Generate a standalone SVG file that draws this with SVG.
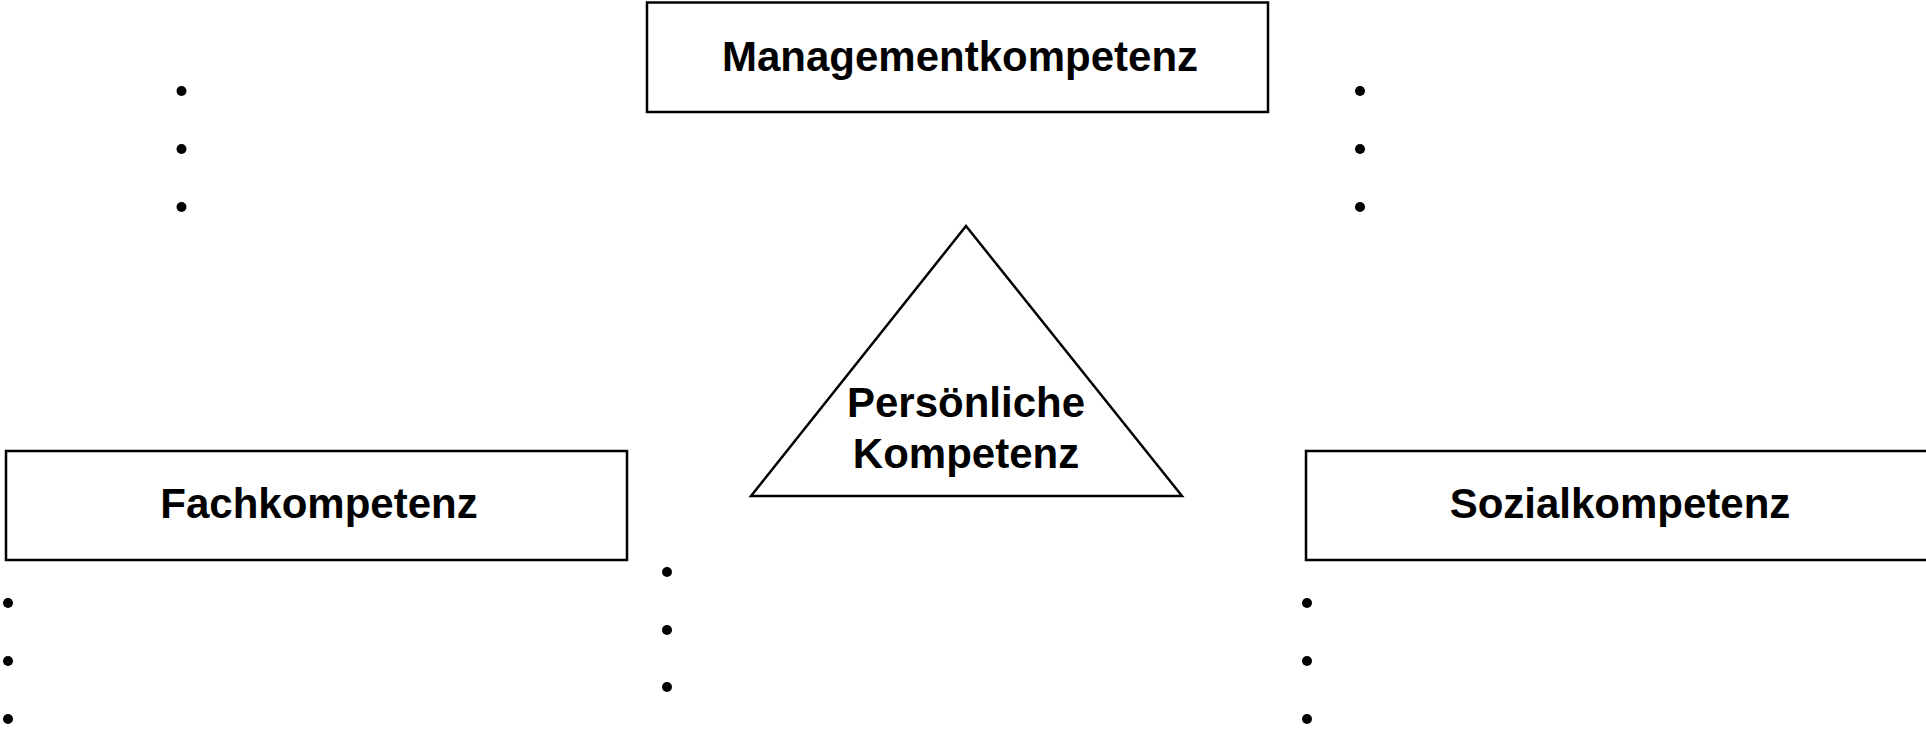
<svg xmlns="http://www.w3.org/2000/svg" width="1926" height="731" viewBox="0 0 1926 731">
<style>
.box{fill:#fff;stroke:#000;stroke-width:2.5}
.lbl{font-family:"Liberation Sans",Arial,sans-serif;font-weight:bold;font-size:42px;fill:#000;text-anchor:middle}
.dot{fill:#000}
</style>
<rect width="1926" height="731" fill="#fff"/>
<g id="management">
<rect class="box" x="647" y="2.5" width="621" height="109.5"/>
<text class="lbl" x="960" y="71">Managementkompetenz</text>
</g>
<g id="fach">
<rect class="box" x="6" y="451" width="621" height="109"/>
<text class="lbl" x="319" y="518">Fachkompetenz</text>
</g>
<g id="sozial">
<rect class="box" x="1306" y="451" width="640" height="109"/>
<text class="lbl" x="1620" y="518">Sozialkompetenz</text>
</g>
<g id="persoenlich">
<polygon class="box" points="966,226 751,496 1182,496"/>
<text class="lbl" x="966" y="417">Persönliche</text>
<text class="lbl" x="966" y="468">Kompetenz</text>
</g>
<g id="connectors"></g>
<g id="dots-top-left">
<circle class="dot" cx="181.5" cy="91" r="5"/>
<circle class="dot" cx="181.5" cy="149" r="5"/>
<circle class="dot" cx="181.5" cy="207" r="5"/>
</g>
<g id="dots-top-right">
<circle class="dot" cx="1360" cy="91" r="5"/>
<circle class="dot" cx="1360" cy="149" r="5"/>
<circle class="dot" cx="1360" cy="207" r="5"/>
</g>
<g id="dots-bottom-left">
<circle class="dot" cx="8" cy="603" r="5"/>
<circle class="dot" cx="8" cy="661" r="5"/>
<circle class="dot" cx="8" cy="719" r="5"/>
</g>
<g id="dots-middle">
<circle class="dot" cx="667" cy="572" r="5"/>
<circle class="dot" cx="667" cy="630" r="5"/>
<circle class="dot" cx="667" cy="687" r="5"/>
</g>
<g id="dots-bottom-right">
<circle class="dot" cx="1307" cy="603" r="5"/>
<circle class="dot" cx="1307" cy="661" r="5"/>
<circle class="dot" cx="1307" cy="719" r="5"/>
</g>
</svg>
